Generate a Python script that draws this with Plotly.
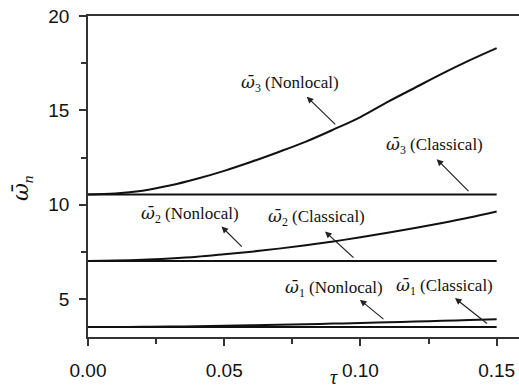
import plotly.graph_objects as go

tau = [0.00, 0.01, 0.02, 0.03, 0.04, 0.05, 0.06, 0.07, 0.08, 0.09, 0.10, 0.11, 0.12, 0.13, 0.14, 0.15]
w1_classical = [3.53] * 16
w1_nonlocal = [3.53, 3.53, 3.54, 3.55, 3.57, 3.60, 3.62, 3.65, 3.68, 3.71, 3.74, 3.78, 3.82, 3.86, 3.90, 3.94]
w2_classical = [7.03] * 16
w2_nonlocal = [7.03, 7.05, 7.09, 7.16, 7.25, 7.38, 7.52, 7.68, 7.86, 8.06, 8.28, 8.52, 8.77, 9.04, 9.33, 9.65]
w3_classical = [10.55] * 16
w3_nonlocal = [10.55, 10.60, 10.75, 11.02, 11.38, 11.80, 12.28, 12.80, 13.35, 13.98, 14.65, 15.45, 16.20, 16.95, 17.65, 18.30]

x_ticks = [0.00, 0.05, 0.10, 0.15]
x_tick_labels = ["0.00", "0.05", "0.10", "0.15"]
y_ticks = [5, 10, 15, 20]
y_tick_labels = ["5", "10", "15", "20"]

W = '<span style="font-family:DejaVu Serif;font-style:italic">ω̄</span>'

# label texts with positions (data coords)
labels = [
    (W + "<sub>3</sub> (Nonlocal)", 0.0741, 16.45),
    (W + "<sub>3</sub> (Classical)", 0.127, 13.14),
    (W + "<sub>2</sub> (Nonlocal)", 0.0374, 9.47),
    (W + "<sub>2</sub> (Classical)", 0.0837, 9.31),
    (W + "<sub>1</sub> (Nonlocal)", 0.0903, 5.59),
    (W + "<sub>1</sub> (Classical)", 0.131, 5.66),
]
# arrows: head (x, y), tail (ax, ay)
arrows = [
    (0.0803, 15.73, 0.0913, 14.18),
    (0.128, 12.42, 0.1402, 10.65),
    (0.049, 8.85, 0.057, 7.71),
    (0.087, 8.59, 0.098, 7.13),
    (0.0998, 4.97, 0.109, 3.88),
    (0.1347, 5.06, 0.147, 3.65),
]

fig = go.Figure()
for ys in [w1_classical, w1_nonlocal, w2_classical, w2_nonlocal, w3_classical, w3_nonlocal]:
    fig.add_trace(go.Scatter(x=tau, y=ys, mode="lines",
                             line=dict(color="#111111", width=2, shape="spline"),
                             showlegend=False, hoverinfo="skip"))

annotations = []
for text, x, y in labels:
    annotations.append(dict(x=x, y=y, xref="x", yref="y", text=text, showarrow=False,
                            font=dict(family="Liberation Serif", size=17, color="#111111"),
                            xanchor="center", yanchor="middle"))
for x, y, ax, ay in arrows:
    annotations.append(dict(x=x, y=y, xref="x", yref="y", ax=ax, ay=ay, axref="x", ayref="y",
                            text="", showarrow=True, arrowhead=2, arrowsize=1.1,
                            arrowwidth=1.2, arrowcolor="#222222"))
annotations.append(dict(x=0.571, y=-0.163, xref="paper", yref="paper", text="<i>τ</i>",
                        showarrow=False, font=dict(family="Liberation Serif", size=20, color="#111111"),
                        xanchor="center", yanchor="bottom", borderpad=0))
annotations.append(dict(x=-0.153, y=0.464, xref="paper", yref="paper",
                        text=W + "<sub><i>n</i></sub>", textangle=-90,
                        showarrow=False, font=dict(family="Liberation Serif", size=22, color="#111111"),
                        xanchor="center", yanchor="middle"))

axis_common = dict(showgrid=False, zeroline=False, showline=True, linecolor="#333333", linewidth=1.5,
                   ticks="outside", ticklen=7, tickwidth=1.5, tickcolor="#333333",
                   tickfont=dict(family="Liberation Sans", size=19, color="#111111"))

fig.update_layout(
    width=519, height=389,
    margin=dict(l=88, r=0, t=16, b=52),
    plot_bgcolor="white", paper_bgcolor="white",
    xaxis=dict(range=[0, 0.1582], tickvals=x_ticks, ticktext=x_tick_labels, mirror=True,
               minor=dict(dtick=0.025, tick0=0, ticks="outside", ticklen=5, tickwidth=1.5, tickcolor="#333333"),
               ticklabelstandoff=8, **axis_common),
    yaxis=dict(range=[3, 20], tickvals=y_ticks, ticktext=y_tick_labels,
               minor=dict(dtick=2.5, tick0=0, ticks="outside", ticklen=5, tickwidth=1.5, tickcolor="#333333"),
               ticklabelstandoff=6, **axis_common),
    annotations=annotations,
)
fig.write_html("out.html", config={"displayModeBar": False},
               post_script="document.body.style.margin='0';document.body.style.overflow='hidden';")
